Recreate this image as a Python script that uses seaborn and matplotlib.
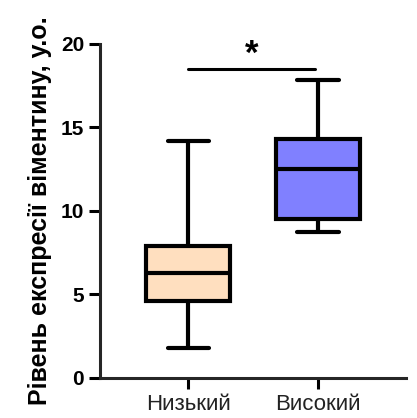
import pandas as pd
import matplotlib
matplotlib.use('Agg')
import matplotlib.pyplot as plt
import seaborn as sns

# five-number summaries (min, Q1, median, Q3, max)
groups = ['Низький', 'Високий']
low_vals = [1.8, 4.6, 6.3, 7.9, 14.2]
high_vals = [8.7, 9.5, 12.5, 14.3, 17.8]
box_colors = ['#FFDFBF', '#8080FF']
y_ticks = [0, 5, 10, 15, 20]
sig_y = 18.5

sns.set_style('ticks')
plt.rcParams['font.family'] = ['Liberation Sans', 'DejaVu Sans']
plt.rcParams['text.color'] = 'black'
plt.rcParams['axes.labelcolor'] = 'black'
plt.rcParams['xtick.color'] = 'black'
plt.rcParams['ytick.color'] = 'black'

data = pd.DataFrame({
    'group': [groups[0]] * len(low_vals) + [groups[1]] * len(high_vals),
    'value': low_vals + high_vals,
})

fig = plt.figure(figsize=(4.17, 4.18), dpi=100)
ax = fig.add_axes([0.24, 0.0964, 0.734, 0.799])

lw = 3.0
sns.boxplot(data=data, x='group', y='value', hue='group', order=groups,
            palette=box_colors, saturation=1, legend=False, width=0.65,
            whis=(0, 100), linewidth=lw, linecolor='black', ax=ax,
            boxprops=dict(linewidth=lw), whiskerprops=dict(linewidth=lw),
            capprops=dict(linewidth=lw), medianprops=dict(linewidth=lw, color='black'),
            capwidths=0.32)

ax.set_ylim(0, 20)
ax.set_xlim(-0.68, 1.68)
ax.set_yticks(y_ticks)
ax.set_yticklabels([str(t) for t in y_ticks], fontsize=15, fontweight='bold')
ax.tick_params(axis='x', labelsize=16, width=2.2, length=8, labelcolor='#222222')
ax.tick_params(axis='y', width=2.2, length=8)
ax.set_xlabel('')
ax.set_ylabel('Рівень експресії віментину, у.о.', fontsize=18, fontweight='bold', labelpad=6)
sns.despine(ax=ax)
for s in ['left', 'bottom']:
    ax.spines[s].set_linewidth(2.2)

ax.plot([0.0, 0.98], [sig_y, sig_y], color='black', lw=2.2)
ax.text(0.49, sig_y - 0.1, '*', ha='center', va='bottom', fontsize=25, fontweight='bold')

fig.savefig('out.png', dpi=100)
